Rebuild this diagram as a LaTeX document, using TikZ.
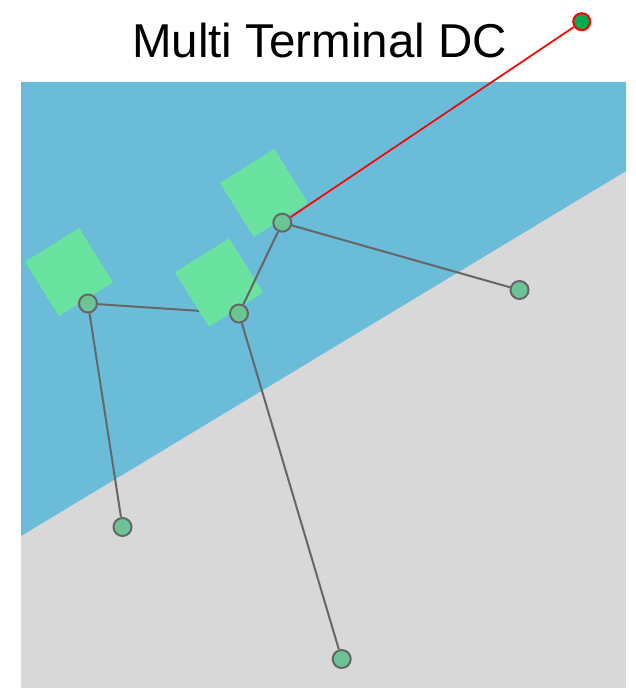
\documentclass[tikz,border=0pt]{standalone}
\usepackage{fontspec}
\setmainfont{Liberation Sans}
\definecolor{seablue}{HTML}{6ABCD9}
\definecolor{landgray}{HTML}{D8D8D8}
\definecolor{sqgreen}{HTML}{6AE3A0}
\definecolor{nodegreen}{HTML}{6CC494}
\definecolor{edgegray}{HTML}{666666}
\definecolor{hubgreen}{HTML}{00AA4F}
\pgfdeclarelayer{bg}
\pgfsetlayers{bg,main}
\tikzset{
  station/.style={circle, draw=edgegray, fill=nodegreen, line width=2pt, minimum size=18pt, inner sep=0pt},
  hub/.style={circle, draw=red, fill=hubgreen, line width=2pt, minimum size=17pt, inner sep=0pt},
  platform/.style={fill=sqgreen, draw=none, minimum size=64pt, inner sep=0pt, rotate=32},
  cable/.style={draw=edgegray, line width=2pt},
  redcable/.style={draw=red, line width=1.7pt}
}
\begin{document}
\begin{tikzpicture}[x=1pt,y=-1pt]
\useasboundingbox (0,0) rectangle (636,690);
% title
\node[anchor=base, font=\fontsize{47.5}{57}\selectfont, inner sep=0pt] (title) at (319.5,57.3) {Multi Terminal DC};
% nodes
\node[station] (A) at (88,303.5) {};
\node[station] (B) at (239,313.5) {};
\node[station] (C) at (282.3,222.7) {};
\node[station] (D) at (519.5,290) {};
\node[station] (E) at (122.5,527) {};
\node[station] (F) at (341.7,659) {};
\node[hub] (G) at (581.7,21.7) {};
\begin{pgfonlayer}{bg}
% background
\fill[landgray] (21,82) rectangle (626,688);
\fill[seablue] (21,82) -- (626,82) -- (626,171) -- (21,536) -- cycle;
% cable under platform
\draw[cable] (A) -- (B);
% platforms
\node[platform] (P1) at (264,193) {};
\node[platform] (P2) at (219,282.5) {};
\node[platform] (P3) at (69,272) {};
% cables
\draw[cable] (A) -- (E);
\draw[cable] (B) -- (C);
\draw[cable] (B) -- (F);
\draw[cable] (C) -- (D);
\draw[redcable] (C) -- (G);
\end{pgfonlayer}
\end{tikzpicture}
\end{document}
